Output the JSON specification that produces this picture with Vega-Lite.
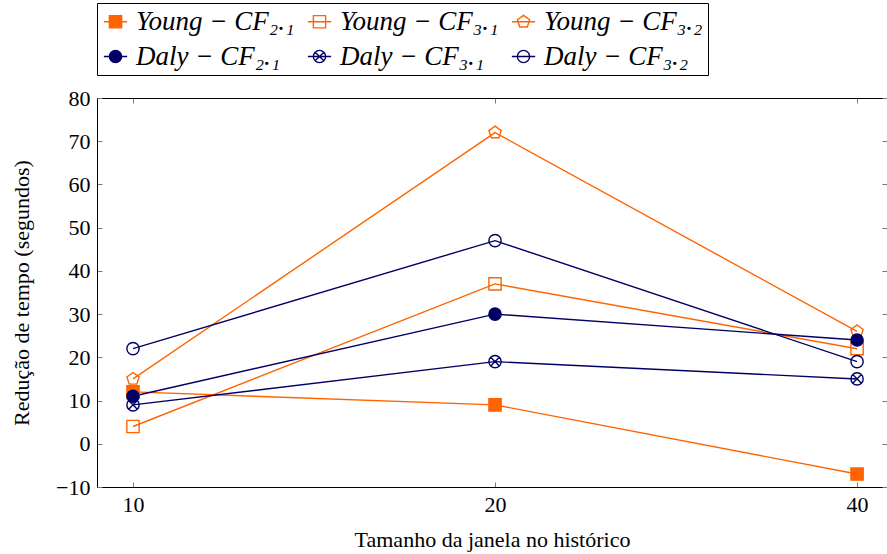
{
  "$schema": "https://vega.github.io/schema/vega-lite/v6.json",
  "width": 790,
  "height": 389,
  "autosize": {"type": "none"},
  "padding": {"left": 97, "top": 98, "right": 0, "bottom": 67},
  "background": "white",
  "config": {
    "view": {"stroke": null},
    "font": "Liberation Serif",
    "axis": {"grid": false, "domainColor": "black", "domainWidth": 1, "tickColor": "#777", "tickWidth": 1, "labelFont": "Liberation Serif", "labelColor": "black", "titleFont": "Liberation Serif", "titleColor": "black", "titleFontWeight": "normal"}
  },
  "data": {"values": [
    {"x": 10, "y": 12, "series": "Young − CF₂.₁"},
    {"x": 20, "y": 9, "series": "Young − CF₂.₁"},
    {"x": 40, "y": -7, "series": "Young − CF₂.₁"},
    {"x": 10, "y": 4, "series": "Young − CF₃.₁"},
    {"x": 20, "y": 37, "series": "Young − CF₃.₁"},
    {"x": 40, "y": 22, "series": "Young − CF₃.₁"},
    {"x": 10, "y": 15, "series": "Young − CF₃.₂"},
    {"x": 20, "y": 72, "series": "Young − CF₃.₂"},
    {"x": 40, "y": 26, "series": "Young − CF₃.₂"},
    {"x": 10, "y": 11, "series": "Daly − CF₂.₁"},
    {"x": 20, "y": 30, "series": "Daly − CF₂.₁"},
    {"x": 40, "y": 24, "series": "Daly − CF₂.₁"},
    {"x": 10, "y": 9, "series": "Daly − CF₃.₁"},
    {"x": 20, "y": 19, "series": "Daly − CF₃.₁"},
    {"x": 40, "y": 15, "series": "Daly − CF₃.₁"},
    {"x": 10, "y": 22, "series": "Daly − CF₃.₂"},
    {"x": 20, "y": 47, "series": "Daly − CF₃.₂"},
    {"x": 40, "y": 19, "series": "Daly − CF₃.₂"}
  ]},
  "layer": [
    {
      "mark": {"type": "line", "strokeWidth": 1.4},
      "encoding": {
        "x": {"field": "x", "type": "quantitative", "scale": {"type": "log", "base": 2, "domain": [9.334, 42.36], "nice": false},
              "axis": {"values": [10, 20, 40], "format": "d", "title": "Tamanho da janela no histórico", "labelFontSize": 22, "titleFontSize": 22, "titleFontWeight": "normal", "tickSize": -5, "labelPadding": 12, "titlePadding": 14}},
        "y": {"field": "y", "type": "quantitative", "scale": {"domain": [-10, 80], "nice": false},
              "axis": {"values": [-10, 0, 10, 20, 30, 40, 50, 60, 70, 80], "title": "Redução de tempo (segundos)", "labelFontSize": 22, "titleFontSize": 22, "titleFontWeight": "normal", "tickSize": -5, "labelPadding": 12, "titlePadding": 22}},
        "color": {"field": "series", "type": "nominal", "sort": null,
                  "scale": {"domain": ["Young − CF₂.₁", "Young − CF₃.₁", "Young − CF₃.₂", "Daly − CF₂.₁", "Daly − CF₃.₁", "Daly − CF₃.₂"],
                            "range": ["#ff6400", "#ff6400", "#ff6400", "#000066", "#000066", "#000066"]},
                  "legend": null},
        "detail": {"field": "series"}
      }
    },
    {
      "mark": {"type": "point", "filled": false, "strokeWidth": 1.4, "size": 150, "opacity": 1},
      "encoding": {
        "x": {"field": "x", "type": "quantitative", "axis": {"orient": "top", "values": [10, 20, 40], "labels": false, "title": null, "tickSize": -5}},
        "y": {"field": "y", "type": "quantitative", "axis": {"orient": "right", "values": [-10, 0, 10, 20, 30, 40, 50, 60, 70, 80], "labels": false, "title": null, "tickSize": -5}},
        "color": {"field": "series", "type": "nominal", "sort": null, "legend": null},
        "fill": {"field": "series", "type": "nominal", "sort": null, "legend": null,
                 "scale": {"domain": ["Young − CF₂.₁", "Young − CF₃.₁", "Young − CF₃.₂", "Daly − CF₂.₁", "Daly − CF₃.₁", "Daly − CF₃.₂"],
                           "range": ["#ff6400", "transparent", "transparent", "#000066", "transparent", "transparent"]}},
        "shape": {"field": "series", "type": "nominal", "sort": null, "legend": null,
                  "scale": {"domain": ["Young − CF₂.₁", "Young − CF₃.₁", "Young − CF₃.₂", "Daly − CF₂.₁", "Daly − CF₃.₁", "Daly − CF₃.₂"],
                            "range": ["M-1,-1L1,-1L1,1L-1,1Z", "M-1,-1L1,-1L1,1L-1,1Z", "M0,-1.05L1,-0.32L0.62,0.85L-0.62,0.85L-1,-0.32Z", "M-1,0A1,1 0 1,1 1,0A1,1 0 1,1 -1,0Z", "M-1,0A1,1 0 1,1 1,0A1,1 0 1,1 -1,0ZM-0.707,-0.707L0.707,0.707M-0.707,0.707L0.707,-0.707", "M-1,0A1,1 0 1,1 1,0A1,1 0 1,1 -1,0Z"]}}
      }
    },
    {
      "transform": [{"filter": "false"}],
      "mark": {"type": "point", "filled": false, "strokeWidth": 1.4, "size": 150, "opacity": 1},
      "encoding": {
        "color": {"field": "series", "type": "nominal", "sort": null, "legend": {
            "title": null, "orient": "none", "legendX": 0, "legendY": -95, "columns": 3, "direction": "horizontal",
            "gridAlign": "all", "columnPadding": 10, "rowPadding": 7, "padding": 5,
            "strokeColor": "black", "fillColor": "white", "cornerRadius": 0,
            "labelFont": "Liberation Serif", "labelFontStyle": "italic", "labelFontSize": 27, "labelColor": "black", "labelLimit": 400, "labelOffset": 7,
            "symbolStrokeWidth": 1.4, "symbolSize": 150, "symbolOpacity": 1}},
        "fill": {"field": "series", "type": "nominal", "sort": null,
                 "scale": {"domain": ["Young − CF₂.₁", "Young − CF₃.₁", "Young − CF₃.₂", "Daly − CF₂.₁", "Daly − CF₃.₁", "Daly − CF₃.₂"],
                           "range": ["#ff6400", "transparent", "transparent", "#000066", "transparent", "transparent"]}},
        "shape": {"field": "series", "type": "nominal", "sort": null,
                  "scale": {"domain": ["Young − CF₂.₁", "Young − CF₃.₁", "Young − CF₃.₂", "Daly − CF₂.₁", "Daly − CF₃.₁", "Daly − CF₃.₂"],
                            "range": ["M-1.9,0L-1,0M1,0L1.9,0M-1,-1L1,-1L1,1L-1,1Z", "M-1.9,0L1.9,0M-1,-1L1,-1L1,1L-1,1Z", "M-1.9,0L1.9,0M0,-1.05L1,-0.32L0.62,0.85L-0.62,0.85L-1,-0.32Z", "M-1.9,0L-1,0M1,0L1.9,0M-1,0A1,1 0 1,1 1,0A1,1 0 1,1 -1,0Z", "M-1.9,0L1.9,0M-1,0A1,1 0 1,1 1,0A1,1 0 1,1 -1,0ZM-0.707,-0.707L0.707,0.707M-0.707,0.707L0.707,-0.707", "M-1.9,0L1.9,0M-1,0A1,1 0 1,1 1,0A1,1 0 1,1 -1,0Z"]}}
      }
    }
  ],
  "resolve": {
    "axis": {"x": "independent", "y": "independent"},
    "scale": {"shape": "independent"},
    "legend": {"color": "independent", "fill": "independent", "shape": "independent"}
  }
}
